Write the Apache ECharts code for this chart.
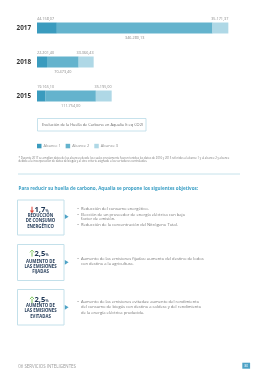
<!DOCTYPE html>
<html><head><meta charset="utf-8">
<script src="https://cdn.jsdelivr.net/npm/echarts@6/dist/echarts.min.js"></script>
<style>html,body{margin:0;padding:0;background:#fff}#c{width:268px;height:380px}</style>
</head><body><div id="c"></div>
<script>
// ---- data ----
var categories = ['2017', '2018', '2015'];
var alcance1 = [44158.07, 22201.40, 19165.10];
var alcance2 = [346280.13, 70473.40, 111754.00];
var alcance3 = [35171.37, 33366.43, 35195.00];
var seriesNames = ['Alcance 1', 'Alcance 2', 'Alcance 3'];
var chartTitle = 'Evolución de la Huella de Carbono en Aqualia (t eq CO2)';

var colors = ['#3a9bbe', '#64b3cd', '#afd8e6'];
var FONT = '"Open Sans", sans-serif';

function fmt(v) {
  var s = v.toFixed(2).split('.');
  return s[0].replace(/\B(?=(\d{3})+(?!\d))/g, '.') + ',' + s[1];
}

var labelBase = { show: true, fontSize: 3.8, color: '#8a8a8a', fontFamily: FONT,
  formatter: function (p) { return fmt(p.value); } };

function txt(x, y, text, opt) {
  opt = opt || {};
  return { type: 'text', z: 10,
    style: { x: x, y: y, text: text, fontSize: opt.size || 4.2, fontFamily: FONT,
      fontWeight: opt.weight || 'normal', fill: opt.color || '#6b6b6b',
      align: opt.align || 'left', verticalAlign: 'middle' } };
}

var graphics = [];
// title box
graphics.push({ type: 'rect', shape: { x: 37.5, y: 118.5, width: 108.5, height: 12.5 },
  style: { fill: '#fff', stroke: '#b9dbe7', lineWidth: 0.8 } });
graphics.push(txt(42, 125, chartTitle, { size: 3.9, color: '#666' }));
// footnote
graphics.push(txt(18.5, 158.3, '* Durante 2017 se amplían datos de los alcances desde los cuales previamente fueron tenidos los datos de 2016 y 2015 referidos al alcance 1 y al alcance 2 y alcance', { size: 2.75, color: '#777' }));
graphics.push(txt(18.5, 161.7, 'debido a la incorporación de datos de biogás y al otro criterio asignado a los vertederos controlados.', { size: 2.75, color: '#777' }));
// separator
graphics.push({ type: 'line', shape: { x1: 18, y1: 174, x2: 240, y2: 174 },
  style: { stroke: '#b7dae6', lineWidth: 0.8 } });
// heading
graphics.push(txt(18.5, 188.3, 'Para reducir su huella de carbono, Aqualia se propone los siguientes objetivos:',
  { size: 4.6, weight: 'bold', color: '#3c9fc5' }));

var boxes = [
  { top: 200, bottom: 235, down: true, arrowColor: '#e04a3f', num: '1,7', numY: 210,
    lines: ['REDUCCIÓN', 'DE CONSUMO', 'ENERGÉTICO'], lineY: [215.7, 221.2, 226.7], ptrY: 216.7,
    bullets: [['• ', 'Reducción del consumo energético.', 209], ['• ', 'Elección de un proveedor de energía eléctrica con bajo', 214.7], ['', 'factor de emisión.', 219.3], ['• ', 'Reducción de la concentración del Nitrógeno Total.', 224.7]] },
  { top: 244.5, bottom: 280.5, down: false, arrowColor: '#6dbb4b', num: '2,5', numY: 253.3,
    lines: ['AUMENTO DE', 'LAS EMISIONES', 'FIJADAS'], lineY: [261.3, 266.3, 271.3], ptrY: 262.3,
    bullets: [['• ', 'Aumento de las emisiones fijadas: aumento del destino de lodos', 259], ['', 'con destino a la agricultura.', 264.3]] },
  { top: 289.5, bottom: 325, down: false, arrowColor: '#6dbb4b', num: '2,5', numY: 300,
    lines: ['AUMENTO DE', 'LAS EMISIONES', 'EVITADAS'], lineY: [306, 311.2, 316.6], ptrY: 307.3,
    bullets: [['• ', 'Aumento de las emisiones evitadas: aumento del rendimiento', 301.7], ['', 'del consumo de biogás con destino a caldera y del rendimiento', 307.2], ['', 'de la energía eléctrica producida.', 312.7]] }
];
boxes.forEach(function (b) {
  graphics.push({ type: 'rect', shape: { x: 17.5, y: b.top, width: 46.5, height: b.bottom - b.top },
    style: { fill: '#fff', stroke: '#c3e0ea', lineWidth: 1 } });
  var ax = 32, cy = b.numY;
  if (b.down) {
    graphics.push({ type: 'line', z: 10, shape: { x1: ax, y1: cy - 3.3, x2: ax, y2: cy + 1 }, style: { stroke: b.arrowColor, lineWidth: 1.1 } });
    graphics.push({ type: 'polygon', z: 10, shape: { points: [[ax - 2.2, cy + 0.4], [ax + 2.2, cy + 0.4], [ax, cy + 3.2]] }, style: { fill: b.arrowColor } });
  } else {
    graphics.push({ type: 'line', z: 10, shape: { x1: ax, y1: cy + 3.3, x2: ax, y2: cy - 1 }, style: { stroke: b.arrowColor, lineWidth: 0.9 } });
    graphics.push({ type: 'polyline', z: 10, shape: { points: [[ax - 2, cy - 0.9], [ax, cy - 3.2], [ax + 2, cy - 0.9]] }, style: { stroke: b.arrowColor, lineWidth: 0.9, fill: null } });
  }
  graphics.push({ type: 'text', z: 10, style: { x: 34.4, y: cy + 0.3, verticalAlign: 'middle', align: 'left',
    text: '{n|' + b.num + '}{p|%}',
    rich: { n: { fontSize: 7.6, fontWeight: 'bold', fill: '#1e3654', fontFamily: FONT },
            p: { fontSize: 3.4, fontWeight: 'bold', fill: '#1e3654', fontFamily: FONT, padding: [2, 0, 0, 0.3] } } } });
  b.lines.forEach(function (l, i) {
    graphics.push(txt(40.5, b.lineY[i], l, { size: 4.3, weight: 'bold', color: '#1e3654', align: 'center' }));
  });
  graphics.push({ type: 'polygon', shape: { points: [[64.8, b.ptrY - 2.4], [68.6, b.ptrY], [64.8, b.ptrY + 2.4]] },
    style: { fill: '#4da2c6' } });
  b.bullets.forEach(function (bl) {
    if (bl[0]) graphics.push(txt(77.3, bl[2], '•', { size: 4.2, color: '#777' }));
    graphics.push(txt(81, bl[2], bl[1], { size: 4.1, color: '#777' }));
  });
});
// footer
graphics.push(txt(18.3, 366.7, '06 SERVICIOS INTELIGENTES', { size: 4.4, color: '#9a9a9a' }));
graphics.push({ type: 'rect', shape: { x: 242.3, y: 362.7, width: 7.8, height: 6 }, style: { fill: '#4da2c6' } });
graphics.push(txt(246.2, 365.8, '80', { size: 3.2, color: '#fff', align: 'center' }));

var chart = echarts.init(document.getElementById('c'), null, { renderer: 'canvas' });
chart.setOption({
  backgroundColor: '#fff',
  animation: false,
  color: colors,
  grid: { left: 37, top: 11, width: 202.3, height: 102, containLabel: false },
  legend: { show: true, left: 37, top: 143.8, padding: 0, itemWidth: 4.5, itemHeight: 4.5, itemGap: 5,
    icon: 'rect', data: seriesNames,
    textStyle: { fontSize: 3.9, color: '#888', fontFamily: FONT, padding: [0, 0, 0, -3] } },
  xAxis: { type: 'value', min: 0, max: 450000, show: false },
  yAxis: { type: 'category', data: categories, inverse: true,
    axisLine: { show: false }, axisTick: { show: false }, splitLine: { show: false },
    axisLabel: { margin: 6, fontSize: 6.3, fontWeight: 'bold', color: '#333', fontFamily: FONT } },
  series: [
    { name: seriesNames[0], type: 'bar', stack: 't', barWidth: 11, data: alcance1,
      label: Object.assign({}, labelBase, { position: [0, -1.5], align: 'left', verticalAlign: 'bottom' }) },
    { name: seriesNames[1], type: 'bar', stack: 't', barWidth: 11, data: alcance2,
      label: Object.assign({}, labelBase, { position: 'bottom', distance: 2.5 }) },
    { name: seriesNames[2], type: 'bar', stack: 't', barWidth: 11, data: alcance3,
      label: Object.assign({}, labelBase, { position: ['100%', -1.5], align: 'right', verticalAlign: 'bottom' }) }
  ],
  graphic: graphics
});
</script></body></html>
